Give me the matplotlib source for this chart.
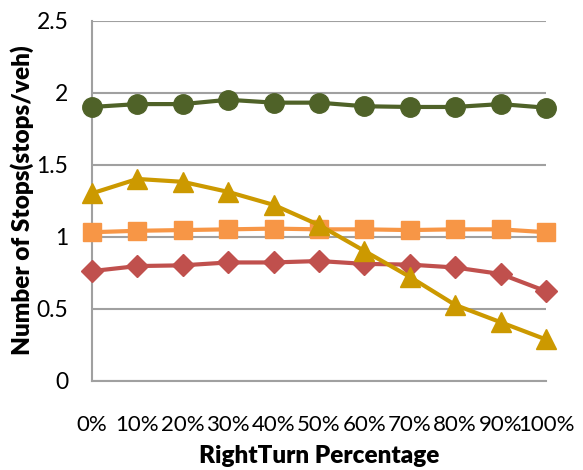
import matplotlib
matplotlib.use("Agg")
import matplotlib.pyplot as plt

categories = ["0%", "10%", "20%", "30%", "40%", "50%", "60%", "70%", "80%", "90%", "100%"]
green = [1.90, 1.92, 1.92, 1.95, 1.93, 1.93, 1.905, 1.90, 1.90, 1.92, 1.895]
orange = [1.03, 1.04, 1.045, 1.05, 1.055, 1.05, 1.05, 1.045, 1.05, 1.05, 1.03]
red = [0.76, 0.795, 0.80, 0.82, 0.82, 0.83, 0.81, 0.805, 0.785, 0.74, 0.62]
yellow = [1.30, 1.40, 1.38, 1.31, 1.22, 1.08, 0.90, 0.72, 0.525, 0.405, 0.285]
yticks = [0, 0.5, 1, 1.5, 2, 2.5]
ytick_labels = ["0", "0.5", "1", "1.5", "2", "2.5"]

plt.rcParams['font.family'] = ['Lato', 'DejaVu Sans']

fig = plt.figure(figsize=(5.83, 4.70), dpi=100)
ax = fig.add_axes([0.1578, 0.1904, 0.7787, 0.7658])

x = list(range(len(categories)))
series = [
    (green, "#4F6228", "o", 14),
    (orange, "#F79646", "s", 13),
    (red, "#C0504D", "D", 11),
    (yellow, "#CC9900", "^", 15),
]
for vals, col, mk, ms in series:
    ax.plot(x, vals, color=col, lw=3, marker=mk, markersize=ms,
            markeredgecolor=col, markerfacecolor=col, clip_on=False, zorder=3)

ax.set_xlim(0, len(categories) - 1)
ax.set_ylim(0, 2.5)
ax.set_yticks(yticks)
ax.set_yticklabels(ytick_labels)
ax.set_xticks(x)
ax.set_xticklabels(categories)
ax.tick_params(axis='both', length=0, labelsize=16.5, colors='black')
ax.tick_params(axis='x', labelsize=16, pad=25)
ax.tick_params(axis='y', pad=17)

ax.grid(axis='y', color='#a0a0a0', lw=1.5)
ax.set_axisbelow(True)
for s in ['top', 'right']:
    ax.spines[s].set_visible(False)
ax.spines['left'].set_color('#a0a0a0')
ax.spines['left'].set_linewidth(1.5)
ax.spines['bottom'].set_color('#a0a0a0')
ax.spines['bottom'].set_linewidth(1.5)

ax.set_xlabel("RightTurn Percentage", fontsize=17.5, fontweight='heavy', labelpad=7)
ax.set_ylabel("Number of Stops(stops/veh)", fontsize=17.5, fontweight='heavy', labelpad=2)

fig.savefig("out.png", dpi=100)
